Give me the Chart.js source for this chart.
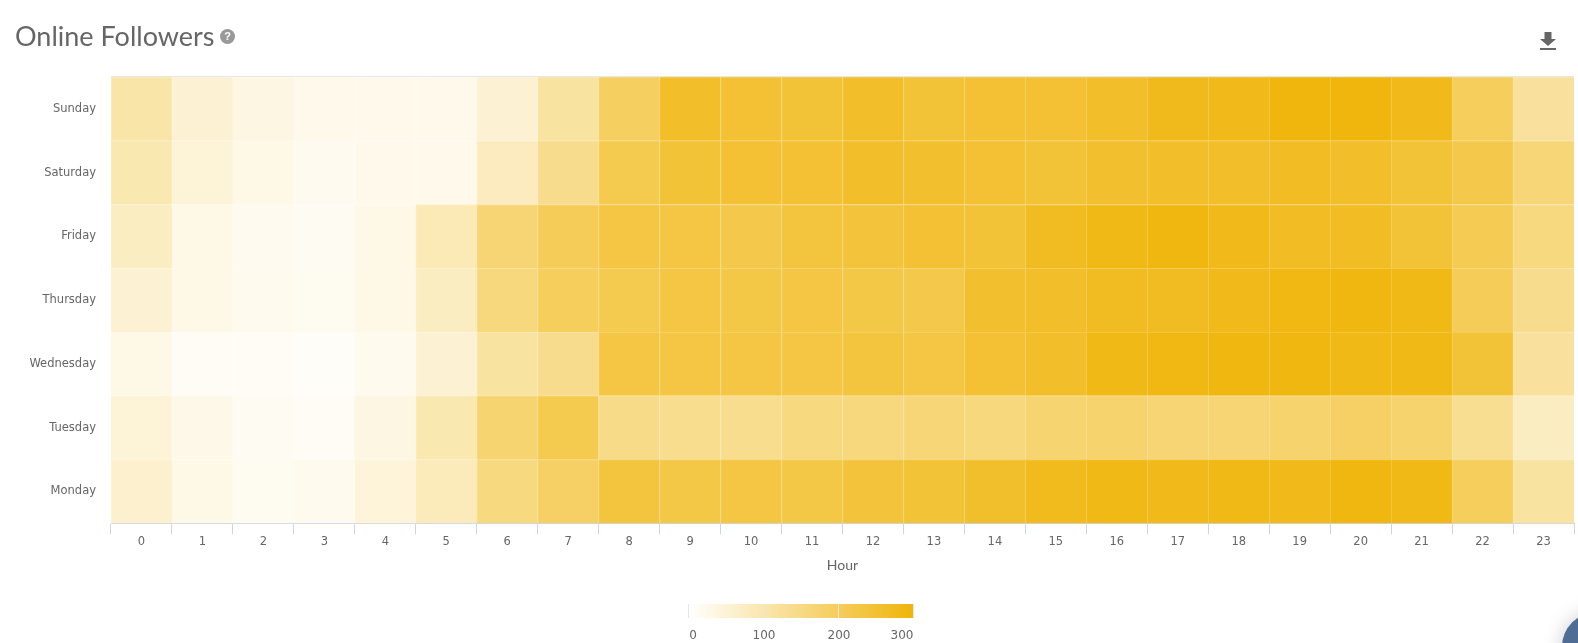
<!DOCTYPE html>
<html>
<head>
<meta charset="utf-8">
<title>Online Followers</title>
<script src="https://cdn.jsdelivr.net/npm/chart.js@4"></script>
<style>
  html, body { margin: 0; padding: 0; background: #fff; overflow: hidden; }
  #wrap { position: relative; width: 1578px; height: 643px; overflow: hidden; }
  #heatmap { position: absolute; left: 0; top: 0; }
  h1 { position: absolute; left: 15px; top: 19px; margin: 0; font: 400 27px Lato, sans-serif; color: #666; }
  #help { position: absolute; left: 220px; top: 29px; width: 15px; height: 15px; border-radius: 50%; background: #999;
    color: #fff; font: 700 11px/15px "Liberation Sans", sans-serif; text-align: center; }
  #download { position: absolute; left: 1539px; top: 32px; }
  #scale-bar { position: absolute; left: 688px; top: 604px; width: 226px; height: 14px;
    background: linear-gradient(to right, #ffffff, #f0b40a);
    border-left: 1px solid #e6e6e6; border-right: 1px solid #e6e6e6; box-sizing: border-box; }
  #scale-bar i { position: absolute; top: 0; width: 1px; height: 14px; background: #e6e6e6; }
  .scale-label { position: absolute; top: 628px; transform: translateX(-50%); font: 12px "DejaVu Sans", sans-serif; color: #666; }
  #bubble { position: absolute; left: 1562px; top: 612px; width: 70px; height: 70px; border-radius: 50%; background: #4f6d94;
    box-shadow: 0 0 20px rgba(0,0,0,.2); }
</style>
</head>
<body>
<div id="wrap">
  <canvas id="heatmap" width="1578" height="643"></canvas>
  <h1>Online Followers</h1>
  <div id="help">?</div>
  <svg id="download" width="18" height="20" viewBox="0 0 18 20">
    <path d="M5.5 0h7v7H17l-8 7-8-7h4.500z" fill="#666"/>
    <rect x="1" y="16" width="16" height="2" fill="#666"/>
  </svg>
  <div id="scale-bar"><i style="left:75px"></i><i style="left:149px"></i></div>
  <span class="scale-label" style="left:693px">0</span>
  <span class="scale-label" style="left:764px">100</span>
  <span class="scale-label" style="left:839px">200</span>
  <span class="scale-label" style="left:902px">300</span>
  <div id="bubble"></div>
</div>
<script>
const hours = ["0","1","2","3","4","5","6","7","8","9","10","11","12","13","14","15","16","17","18","19","20","21","22","23"];
const days = ["Sunday","Saturday","Friday","Thursday","Wednesday","Tuesday","Monday"];

const sunday = [105,55,35,25,24,24,55,115,195,262,250,245,260,245,250,250,262,278,282,295,295,282,200,120];
const saturday = [95,50,30,20,24,24,80,140,215,245,250,250,260,255,250,245,255,262,262,268,262,245,220,165];
const friday = [75,30,20,16,30,90,170,205,230,230,220,235,240,250,245,272,285,292,280,268,268,245,210,155];
const thursday = [55,30,22,18,30,75,160,200,215,230,225,230,225,222,255,262,272,272,280,288,292,285,205,140];
const wednesday = [30,14,13,9,22,55,115,140,230,230,230,230,235,230,250,262,285,288,292,292,285,285,245,120];
const tuesday = [50,27,15,13,35,95,175,215,145,138,138,155,160,165,160,175,180,170,170,180,190,180,135,75];
const monday = [60,30,18,22,45,85,155,190,235,225,230,225,240,245,258,275,285,280,285,280,292,285,200,115];

// bottom row first, the stack grows upward
const rows = [monday, tuesday, wednesday, thursday, friday, saturday, sunday];

const maxValue = 300;
function mix(v, whiten) {
  const t = (v / maxValue) * (1 - whiten);
  const r = Math.round(255 + (240 - 255) * t);
  const g = Math.round(255 + (181 - 255) * t);
  const b = Math.round(255 + (10 - 255) * t);
  return "rgb(" + r + "," + g + "," + b + ")";
}
function cellColor(v) { return mix(v, 0); }
function cellEdge(v) { return mix(v, 0.22); }

const topLine = {
  id: "topLine",
  afterDatasetsDraw(chart) {
    const { ctx, chartArea } = chart;
    ctx.save();
    ctx.fillStyle = "#e6e6e6";
    ctx.fillRect(chartArea.left, chartArea.top - 1, chartArea.right - chartArea.left, 1);
    ctx.restore();
  },
};

new Chart(document.getElementById("heatmap").getContext("2d"), {
  type: "bar",
  plugins: [topLine],
  data: {
    labels: hours,
    datasets: rows.map(function (row) {
      return {
        data: row.map(function () { return 1; }),
        backgroundColor: row.map(cellColor),
        borderColor: row.map(cellEdge),
        borderWidth: { left: 1, top: 1, right: 0, bottom: 0 },
        borderSkipped: false,
        barPercentage: 1,
        categoryPercentage: 1,
        yAxisID: "y",
      };
    }),
  },
  options: {
    responsive: false,
    animation: false,
    events: [],
    layout: { padding: { left: 0, right: 4, top: 77, bottom: 69 } },
    plugins: { legend: { display: false }, tooltip: { enabled: false } },
    scales: {
      x: {
        stacked: true,
        grid: { drawOnChartArea: false, color: "#ccd6eb", tickLength: 11, lineWidth: 1 },
        border: { color: "#ccd6eb" },
        ticks: { color: "#666", padding: 1, font: { family: "DejaVu Sans", size: 11.5 }, maxRotation: 0, autoSkip: false },
        title: { display: true, text: "Hour", color: "#666", font: { family: "Lato", size: 14 }, padding: { top: 7, bottom: 0 } },
      },
      y: { stacked: true, display: false, min: 0, max: 7 },
      rowLabels: {
        type: "category",
        labels: days,
        offset: true,
        position: "left",
        grid: { display: false },
        border: { display: false },
        ticks: { color: "#666", padding: 7, font: { family: "DejaVu Sans", size: 11.5 }, autoSkip: false },
        afterFit: function (scale) { scale.width = 111; },
      },
    },
  },
});
</script>
</body>
</html>
